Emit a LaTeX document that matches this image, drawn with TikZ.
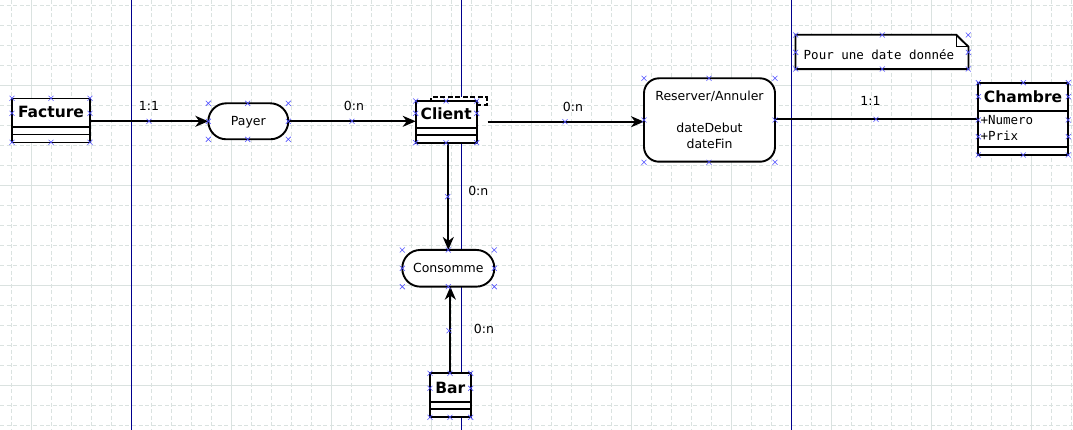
\documentclass[tikz,border=0pt]{standalone}
\usepackage{fontspec}
\setmainfont{DejaVu Sans}
\setmonofont{DejaVu Sans Mono}
\usetikzlibrary{arrows.meta,calc}
\definecolor{gridc}{RGB}{218,226,224}
\definecolor{pagec}{RGB}{0,0,140}
\definecolor{xc}{RGB}{80,80,255}
\begin{document}
\begin{tikzpicture}[x=1pt,y=-1pt,
 box/.style={draw,fill=white,line width=1.9pt,inner sep=0pt,outer sep=0pt},
 divl/.style={line width=1.9pt},
 conn/.style={line width=1.8pt},
 arr/.style={conn,-{Stealth[length=13pt,width=11pt,inset=4pt]}},
 lbl/.style={font=\fontsize{12.5}{16}\selectfont,inner sep=0pt},
 cname/.style={font=\fontsize{15.5}{18}\selectfont\bfseries,inner sep=0pt,anchor=base},
 mono/.style={font=\fontsize{12.5}{16}\selectfont\ttfamily,inner sep=0pt,anchor=base west},
 xm/.style={draw=xc,line width=0.6pt},
 minor/.style={draw=gridc,line width=0.8pt,dash pattern=on 4pt off 2.6pt},
 major/.style={draw=gridc,line width=0.9pt},
 pageline/.style={draw=pagec,line width=1pt},
]
\useasboundingbox[fill=white] (0,0) rectangle (1073,430);
% grid
\foreach \k in {0,...,53} \draw[minor] (11.5+20*\k,0) -- (11.5+20*\k,430);
\foreach \k in {0,...,21} \draw[minor] (0,5+20*\k) -- (1073,5+20*\k);
\foreach \k in {0,...,10} \draw[major] (31.5+100*\k,0) -- (31.5+100*\k,430);
\foreach \yy in {85,185,285,385} \draw[major] (0,\yy) -- (1073,\yy);
% page boundaries
\foreach \xx in {131.5,461.5,791.5} \draw[pageline] (\xx,0) -- (\xx,430);

% Facture
\node[box,minimum width=78pt,minimum height=44pt] (facture) at (51,120.5) {};
\draw[divl] ($(facture.north west)+(0,28.4)$) -- ($(facture.north east)+(0,28.4)$);
\draw[divl] ($(facture.north west)+(0,36)$) -- ($(facture.north east)+(0,36)$);
\node[cname] (facturen) at ($(facture.north)+(0,19.3)$) {Facture};

% Payer
\node[box,rounded corners=18pt,minimum width=80pt,minimum height=36pt,lbl,text depth=0pt] (payer) at (248.3,121.3) {Payer};

% Client
\node[draw,fill=white,line width=1.7pt,dash pattern=on 5pt off 2.5pt,minimum width=55.7pt,minimum height=7.7pt,inner sep=0pt] (tmpl) at (458.85,101.15) {};
\node[box,minimum width=61pt,minimum height=42pt] (client) at (446.2,121.7) {};
\draw[divl] ($(client.north west)+(0,27.6)$) -- ($(client.north east)+(0,27.6)$);
\draw[divl] ($(client.north west)+(0,34.3)$) -- ($(client.north east)+(0,34.3)$);
\node[cname] (clientn) at ($(client.north)+(0,18.4)$) {Client};

% Reserver/Annuler
\node[box,rounded corners=15pt,minimum width=131pt,minimum height=83.4pt] (reserver) at (709.5,120) {};
\node[lbl,align=center] (reservert) at (709.5,119.5) {Reserver/Annuler\\[16pt]dateDebut\\dateFin};

% Chambre
\node[box,minimum width=90.6pt,minimum height=72.3pt] (chambre) at (1023,118.85) {};
\draw[divl] ($(chambre.north west)+(0,28)$) -- ($(chambre.north east)+(0,28)$);
\draw[divl] ($(chambre.north west)+(0,64)$) -- ($(chambre.north east)+(0,64)$);
\node[cname] (chambren) at ($(chambre.north)+(0,20)$) {Chambre};
\node[mono] (attr1) at (980.3,124.3) {+Numero};
\node[mono] (attr2) at (980.3,140.7) {+Prix};

% Note
\node[minimum width=172.6pt,minimum height=34pt,inner sep=0pt] (note) at (882,52) {};
\draw[line width=1.9pt,fill=white] (note.north west) -- ($(note.north east)+(-12.3,0)$) -- ($(note.north east)+(0,12)$) -- (note.south east) -- (note.south west) -- cycle;
\draw[line width=1.2pt] ($(note.north east)+(-12.3,0)$) |- ($(note.north east)+(0,12)$);
\node[mono] (notet) at (803.5,60) {Pour une date donnée};

% Consomme
\node[box,rounded corners=18pt,minimum width=92pt,minimum height=36.7pt,lbl] (consomme) at (448.3,268.3) {Consomme};

% Bar
\node[box,minimum width=40.7pt,minimum height=44pt] (bar) at (450.35,395.3) {};
\draw[divl] ($(bar.north west)+(0,28.4)$) -- ($(bar.north east)+(0,28.4)$);
\draw[divl] ($(bar.north west)+(0,36)$) -- ($(bar.north east)+(0,36)$);
\node[cname] (barn) at ($(bar.north)+(0,20)$) {Bar};

% connectors
\draw[arr] (facture.east |- payer.west) -- (payer.west);
\node[lbl] (l1) at (149,106) {1:1};
\draw[arr] (payer.east) -- (client.west |- payer.east);
\node[lbl] (l2) at (354,106) {0:n};
\draw[arr] (tmpl.east |- client.east) -- (reserver.west |- client.east);
\node[lbl] (l3) at (573,106.7) {0:n};
\draw[conn] (reserver.east |- chambre.west) -- (chambre.west);
\node[lbl] (l4) at (870.5,100.7) {1:1};
\draw[arr] (consomme.north |- client.south) -- (consomme.north);
\node[lbl] (l5) at (478.3,190.7) {0:n};
\draw[arr] (bar.north) -- (bar.north |- consomme.south);
\node[lbl] (l6) at (484,329) {0:n};

% connection point markers
\foreach \p in {(12,98.3),(51,98.3),(90,98.3),(12,113.3),(90,113.3),(12,142.3),(51,142.3),(90,142.3),
 (149,121.3),
 (208.3,103.3),(247.7,103.3),(288.3,103.3),(208.3,121.3),(288.3,121.3),(208.3,139.3),(247.7,139.3),(288.3,139.3),
 (352,121.3),
 (415.7,101),(446,101),(476.7,101),(415.7,113.3),(476.7,113.3),(415.7,142.7),(446,142.7),(476.7,142.7),
 (565,121.7),
 (644,78.3),(709,78.3),(775,78.3),(644,120),(775,120),(644,162.3),(709,162.3),(775,162.3),
 (876,119.3),
 (978.3,82.7),(1023.3,82.7),(1068.3,82.7),(978.3,96.7),(1068.3,96.7),(978.3,120),(1068.3,120),(978.3,136.7),(1068.3,136.7),(978.3,155),(1023.3,155),(1068.3,155),
 (795.7,35),(882.3,35),(968.3,35),(795.7,52.3),(968.3,52.3),(795.7,69),(882.3,69),(968.3,69),
 (447.7,196.7),
 (402.3,250),(448.3,250),(494.3,250),(402.3,268.3),(494.3,268.3),(402.3,286.7),(448.3,286.7),(494.3,286.7),
 (449,330.7),
 (430,373.3),(450,373.3),(470.7,373.3),(430,388.3),(470.7,388.3),(430,417.3),(450,417.3),(470.7,417.3)}
 \draw[xm] \p +(-2.5,-2.5) -- +(2.5,2.5) \p +(-2.5,2.5) -- +(2.5,-2.5);
\end{tikzpicture}
\end{document}
